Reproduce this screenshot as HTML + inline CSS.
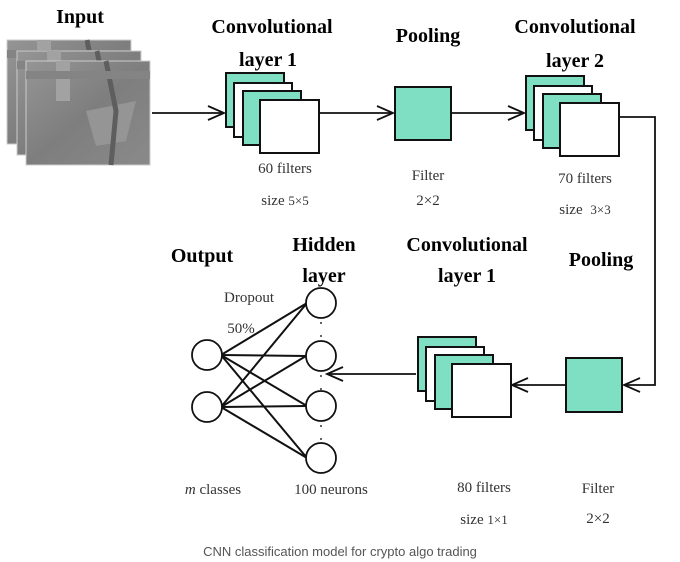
<!DOCTYPE html>
<html><head><meta charset="utf-8"><style>
html,body{margin:0;padding:0;background:#fff;width:680px;height:562px;overflow:hidden}
svg text{font-family:"Liberation Serif",serif}
.b{font-weight:bold;font-size:20px}
.r{font-size:15px;fill:#333}
</style></head><body>
<svg width="680" height="562" viewBox="0 0 680 562" xmlns="http://www.w3.org/2000/svg">
<defs>
<linearGradient id="g" x1="0" y1="0" x2="1" y2="1">
<stop offset="0" stop-color="#959595"/><stop offset="0.5" stop-color="#7e7e7e"/><stop offset="1" stop-color="#8a8a8a"/></linearGradient>
<g id="img"><rect width="124" height="104" fill="url(#g)" stroke="#ccc"/>
<rect x="30" y="0" width="14" height="40" fill="#a2a2a2"/><polygon points="60,50 110,40 100,80 70,85" fill="#959595"/>
<path d="M80,0 L90,50 L85,104" stroke="#5e5e5e" stroke-width="5" fill="none"/><rect x="0" y="10" width="124" height="8" fill="#848484"/></g>
<g id="stack" stroke="#111" stroke-width="2">
<rect x="0" y="0" width="58" height="54" fill="#7fdfc2"/>
<rect x="8" y="10" width="58" height="54" fill="#fff"/>
<rect x="17" y="18" width="58" height="54" fill="#7fdfc2"/>
<rect x="34" y="27" width="59" height="53" fill="#fff"/></g>
</defs>
<use href="#img" x="7" y="40"/><use href="#img" x="17" y="51"/><use href="#img" x="26" y="61"/>
<g fill="none" stroke="#111" stroke-width="1.8">
<line x1="152" y1="113" x2="224" y2="113"/><polyline points="208,106 224,113 208,120"/>
<line x1="319" y1="113" x2="393" y2="113"/><polyline points="377,106 393,113 377,120"/>
<line x1="451" y1="113" x2="524" y2="113"/><polyline points="508,106 524,113 508,120"/>
<polyline points="619,117 655,117 655,385 624,385"/><polyline points="640,378 624,385 640,392"/>
<line x1="566" y1="385" x2="512" y2="385"/><polyline points="528,378 512,385 528,392"/>
<line x1="416" y1="374" x2="327" y2="374"/><polyline points="343,367 327,374 343,381"/>
</g>
<use href="#stack" x="226" y="73"/>
<use href="#stack" x="526" y="76"/>
<use href="#stack" x="418" y="337"/>
<rect x="395" y="87" width="56" height="53" fill="#7fdfc2" stroke="#111" stroke-width="2"/>
<rect x="566" y="358" width="56" height="54" fill="#7fdfc2" stroke="#111" stroke-width="2"/>
<g stroke="#111" stroke-width="2">
<line x1="221" y1="355" x2="307" y2="303"/><line x1="221" y1="355" x2="306" y2="356"/><line x1="221" y1="355" x2="307" y2="406"/><line x1="221" y1="355" x2="307" y2="458"/>
<line x1="221" y1="407" x2="307" y2="303"/><line x1="221" y1="407" x2="306" y2="356"/><line x1="221" y1="407" x2="306" y2="406"/><line x1="221" y1="407" x2="307" y2="458"/>
</g>
<g fill="#fff" stroke="#111" stroke-width="1.8">
<circle cx="321" cy="303" r="15"/><circle cx="321" cy="356" r="15"/><circle cx="321" cy="406" r="15"/><circle cx="321" cy="458" r="15"/>
<circle cx="207" cy="355" r="15"/><circle cx="207" cy="407" r="15"/></g>
<g fill="#333"><circle cx="321" cy="323" r="1"/><circle cx="321" cy="336" r="1"/><circle cx="321" cy="376" r="1"/><circle cx="321" cy="389" r="1"/><circle cx="321" cy="426" r="1"/><circle cx="321" cy="439" r="1"/></g>
<text class="b" x="80" y="23" text-anchor="middle" font-size="23">Input</text>
<text class="b" x="272" y="33" text-anchor="middle">Convolutional</text>
<text class="b" x="268" y="66" text-anchor="middle">layer 1</text>
<text class="b" x="428" y="42" text-anchor="middle">Pooling</text>
<text class="b" x="575" y="33" text-anchor="middle">Convolutional</text>
<text class="b" x="575" y="67" text-anchor="middle">layer 2</text>
<text class="b" x="202" y="262" text-anchor="middle">Output</text>
<text class="b" x="324" y="251" text-anchor="middle">Hidden</text>
<text class="b" x="324" y="282" text-anchor="middle">layer</text>
<text class="b" x="467" y="251" text-anchor="middle">Convolutional</text>
<text class="b" x="467" y="282" text-anchor="middle">layer 1</text>
<text class="b" x="601" y="266" text-anchor="middle">Pooling</text>
<text class="r" x="285" y="173" text-anchor="middle">60 filters</text>
<text class="r" x="285" y="205" text-anchor="middle">size <tspan font-size="13">5×5</tspan></text>
<text class="r" x="428" y="180" text-anchor="middle">Filter</text>
<text class="r" x="428" y="205" text-anchor="middle" font-size="13">2×2</text>
<text class="r" x="585" y="183" text-anchor="middle">70 filters</text>
<text class="r" x="585" y="214" text-anchor="middle">size <tspan font-size="13" dx="4">3×3</tspan></text>
<text class="r" x="249" y="302" text-anchor="middle" font-size="13">Dropout</text>
<text class="r" x="241" y="333" text-anchor="middle" font-size="13">50%</text>
<text class="r" x="213" y="494" text-anchor="middle"><tspan font-style="italic">m</tspan> classes</text>
<text class="r" x="331" y="494" text-anchor="middle">100 neurons</text>
<text class="r" x="484" y="492" text-anchor="middle">80 filters</text>
<text class="r" x="484" y="524" text-anchor="middle">size <tspan font-size="13">1×1</tspan></text>
<text class="r" x="598" y="493" text-anchor="middle">Filter</text>
<text class="r" x="598" y="523" text-anchor="middle" font-size="13">2×2</text>
<text x="340" y="556" text-anchor="middle" style="font-family:'Liberation Sans',sans-serif;font-size:13px;fill:#555">CNN classification model for crypto algo trading</text>
</svg>
</body></html>
